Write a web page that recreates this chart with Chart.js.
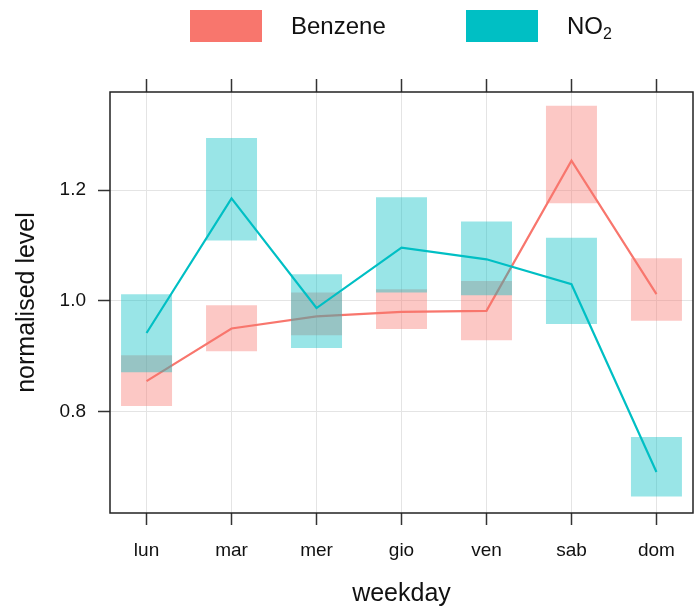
<!DOCTYPE html>
<html>
<head>
<meta charset="utf-8">
<script src="https://cdn.jsdelivr.net/npm/chart.js@4"></script>
<style>
  body { margin: 0; background: #fff; }
  #wrap { position: relative; width: 695px; height: 610px; font-family: "Liberation Sans", Arial, sans-serif; }
  #legend { position: absolute; top: 0; left: 0; width: 695px; height: 52px; }
  .item { position: absolute; top: 10px; height: 32px; display: flex; align-items: center; }
  .swatch { width: 72px; height: 32px; }
  .label { position: absolute; top: 0; font-size: 24px; line-height: 32px; color: #111; white-space: nowrap; }
  .label sub { font-size: 16px; line-height: 0; vertical-align: -5px; }
</style>
</head>
<body>
<div id="wrap">
  <canvas id="chart" width="695" height="610"></canvas>
  <div id="legend"></div>
</div>
<script>
const weekdays = ['lun', 'mar', 'mer', 'gio', 'ven', 'sab', 'dom'];
const yTicks = [0.8, 1.0, 1.2];

const benzeneMean  = [0.855, 0.950, 0.972, 0.980, 0.982, 1.253, 1.012];
const benzeneLower = [0.810, 0.909, 0.938, 0.949, 0.929, 1.176, 0.964];
const benzeneUpper = [0.902, 0.992, 1.015, 1.021, 1.036, 1.352, 1.077];

const no2Mean  = [0.942, 1.185, 0.987, 1.096, 1.075, 1.030, 0.691];
const no2Lower = [0.871, 1.109, 0.915, 1.015, 1.010, 0.958, 0.647];
const no2Upper = [1.012, 1.294, 1.048, 1.187, 1.143, 1.114, 0.754];

const RED = '#F8766D';
const CYAN = '#00BFC4';

// legend drawn as html, the chart only has the plot
const legendItems = [
  { html: 'Benzene', color: RED, left: 190, text: 291 },
  { html: 'NO<sub>2</sub>', color: CYAN, left: 466, text: 567 },
];
const legend = document.getElementById('legend');
legendItems.forEach(it => {
  const sw = document.createElement('div');
  sw.className = 'item';
  sw.style.left = it.left + 'px';
  sw.innerHTML = '<div class="swatch" style="background:' + it.color + '"></div>';
  legend.appendChild(sw);
  const lb = document.createElement('div');
  lb.className = 'label';
  lb.style.left = it.text + 'px';
  lb.style.top = '10px';
  lb.innerHTML = it.html;
  legend.appendChild(lb);
});

const boxes = (lo, hi) => lo.map((v, i) => ({ x: i, y: [v, hi[i]] }));
const points = vals => vals.map((v, i) => ({ x: i, y: v }));

const frame = {
  id: 'frame',
  afterDatasetsDraw(chart) {
    const { ctx, chartArea: a } = chart;
    ctx.save();
    ctx.strokeStyle = '#222';
    ctx.lineWidth = 1.5;
    ctx.strokeRect(a.left, a.top, a.right - a.left, a.bottom - a.top);
    ctx.restore();
  }
};

const FONT = '"Liberation Sans", Arial, sans-serif';
const catTicks = axis => { axis.ticks = weekdays.map((d, i) => ({ value: i })); };

new Chart(document.getElementById('chart'), {
  type: 'bar',
  data: {
    datasets: [
      { type: 'bar', label: 'Benzene range', data: boxes(benzeneLower, benzeneUpper),
        backgroundColor: 'rgba(248,118,109,0.4)', borderWidth: 0, grouped: false,
        barPercentage: 0.6, categoryPercentage: 1, order: 4 },
      { type: 'line', label: 'Benzene', data: points(benzeneMean),
        borderColor: RED, borderWidth: 2.2, pointRadius: 0, tension: 0, fill: false, order: 3 },
      { type: 'bar', label: 'NO2 range', data: boxes(no2Lower, no2Upper),
        backgroundColor: 'rgba(0,191,196,0.4)', borderWidth: 0, grouped: false,
        barPercentage: 0.6, categoryPercentage: 1, order: 2 },
      { type: 'line', label: 'NO2', data: points(no2Mean),
        borderColor: CYAN, borderWidth: 2.2, pointRadius: 0, tension: 0, fill: false, order: 1 },
    ]
  },
  options: {
    responsive: false,
    animation: false,
    layout: { padding: { left: 0, right: 2, top: 0, bottom: 0 } },
    plugins: { legend: { display: false }, tooltip: { enabled: false } },
    scales: {
      x: {
        type: 'linear', position: 'bottom', min: -0.43, max: 6.43, offset: false,
        afterBuildTicks: catTicks,
        afterFit: s => { s.height = 97; },
        grid: { offset: false, color: '#e4e4e4', lineWidth: 1, tickColor: '#333', tickWidth: 1.5, tickLength: 12 },
        border: { display: false },
        ticks: { callback: v => weekdays[v], color: '#111', font: { family: FONT, size: 19 },
                 padding: 14, maxRotation: 0, autoSkip: false },
        title: { display: true, text: 'weekday', color: '#111', font: { family: FONT, size: 25 },
                 padding: { top: 0, bottom: 1 } }
      },
      x2: {
        type: 'linear', position: 'top', min: -0.43, max: 6.43, offset: false,
        afterBuildTicks: catTicks,
        afterFit: s => { s.height = 92; },
        grid: { offset: false, drawOnChartArea: false, tickColor: '#333', tickWidth: 1.5, tickLength: 13 },
        border: { display: false },
        ticks: { display: false }
      },
      y: {
        min: 0.617, max: 1.377,
        afterBuildTicks: axis => { axis.ticks = yTicks.map(v => ({ value: v })); },
        afterFit: s => { s.width = 110; },
        grid: { color: '#e4e4e4', lineWidth: 1, tickColor: '#333', tickWidth: 1.5, tickLength: 12 },
        border: { display: false },
        ticks: { callback: v => v.toFixed(1), color: '#111', font: { family: FONT, size: 19 }, padding: 12 },
        title: { display: true, text: 'normalised level', color: '#111', font: { family: FONT, size: 25 },
                 padding: { top: 12, bottom: 0 } }
      }
    }
  },
  plugins: [frame]
});
</script>
</body>
</html>
